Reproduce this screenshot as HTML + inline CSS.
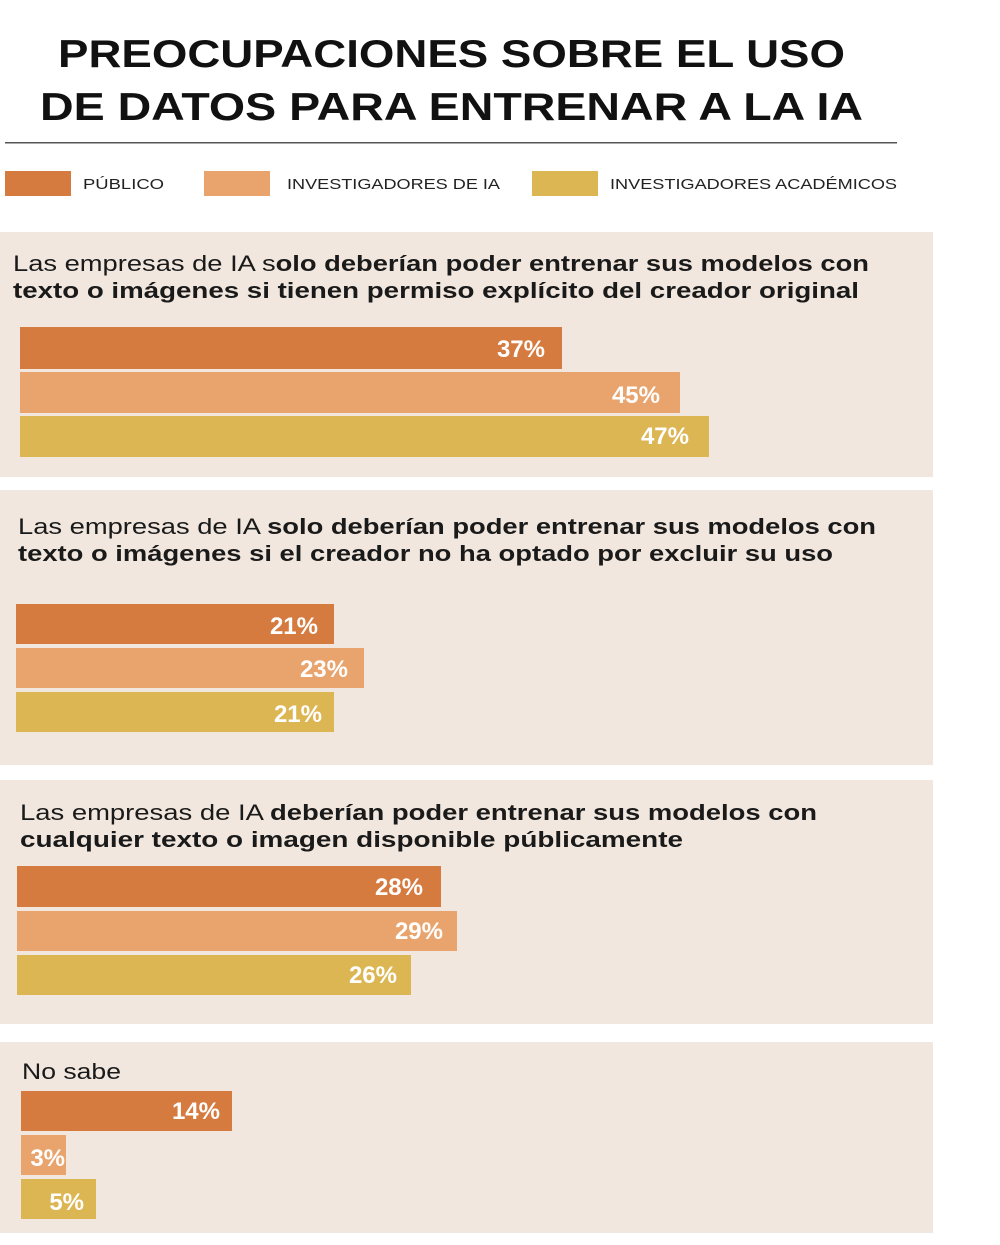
<!DOCTYPE html>
<html><head><meta charset="utf-8"><style>
html,body{margin:0;padding:0;background:#fff;}
svg{display:block;font-family:"Liberation Sans",sans-serif;}
.t{font-weight:bold;fill:#111;font-size:39px}
.lg{font-size:15px;fill:#222}
.q{font-size:22px;fill:#1a1a1a}
.b{font-weight:bold}
.v{font-weight:bold;font-size:24px;fill:#fff;text-anchor:end}
</style></head><body>
<svg width="1000" height="1245" viewBox="0 0 1000 1245">
<rect width="1000" height="1245" fill="#fff"/>
<text class="t" x="58" y="67" textLength="787" lengthAdjust="spacingAndGlyphs">PREOCUPACIONES SOBRE EL USO</text>
<text class="t" x="40" y="120" textLength="823" lengthAdjust="spacingAndGlyphs">DE DATOS PARA ENTRENAR A LA IA</text>
<rect x="5" y="142" width="892" height="1.5" fill="#555"/>
<rect x="5" y="171" width="66" height="25" fill="#d67b40"/>
<text class="lg" x="83" y="189" textLength="81" lengthAdjust="spacingAndGlyphs">PÚBLICO</text>
<rect x="204" y="171" width="66" height="25" fill="#e8a46c"/>
<text class="lg" x="287" y="189" textLength="213" lengthAdjust="spacingAndGlyphs">INVESTIGADORES DE IA</text>
<rect x="532" y="171" width="66" height="25" fill="#dcb653"/>
<text class="lg" x="610" y="189" textLength="287" lengthAdjust="spacingAndGlyphs">INVESTIGADORES ACADÉMICOS</text>

<rect x="0" y="232" width="933" height="245" fill="#f1e7de"/>
<text class="q" x="13" y="271" textLength="856" lengthAdjust="spacingAndGlyphs">Las empresas de IA s<tspan class="b">olo deberían poder entrenar sus modelos con</tspan></text>
<text class="q b" x="13" y="298" textLength="846" lengthAdjust="spacingAndGlyphs">texto o imágenes si tienen permiso explícito del creador original</text>
<rect x="20" y="327" width="542" height="42" fill="#d67b40"/>
<rect x="20" y="372" width="660" height="41" fill="#e8a46c"/>
<rect x="20" y="416" width="689" height="41" fill="#dcb653"/>
<text class="v" x="545" y="357">37%</text>
<text class="v" x="660" y="403">45%</text>
<text class="v" x="689" y="444">47%</text>

<rect x="0" y="490" width="933" height="275" fill="#f1e7de"/>
<text class="q" x="18" y="534" textLength="858" lengthAdjust="spacingAndGlyphs">Las empresas de IA <tspan class="b">solo deberían poder entrenar sus modelos con</tspan></text>
<text class="q b" x="18" y="561" textLength="815" lengthAdjust="spacingAndGlyphs">texto o imágenes si el creador no ha optado por excluir su uso</text>
<rect x="16" y="604" width="318" height="40" fill="#d67b40"/>
<rect x="16" y="648" width="348" height="40" fill="#e8a46c"/>
<rect x="16" y="692" width="318" height="40" fill="#dcb653"/>
<text class="v" x="318" y="634">21%</text>
<text class="v" x="348" y="677">23%</text>
<text class="v" x="322" y="722">21%</text>

<rect x="0" y="780" width="933" height="244" fill="#f1e7de"/>
<text class="q" x="20" y="820" textLength="797" lengthAdjust="spacingAndGlyphs">Las empresas de IA <tspan class="b">deberían poder entrenar sus modelos con</tspan></text>
<text class="q b" x="20" y="847" textLength="663" lengthAdjust="spacingAndGlyphs">cualquier texto o imagen disponible públicamente</text>
<rect x="17" y="866" width="424" height="41" fill="#d67b40"/>
<rect x="17" y="911" width="440" height="40" fill="#e8a46c"/>
<rect x="17" y="955" width="394" height="40" fill="#dcb653"/>
<text class="v" x="423" y="895">28%</text>
<text class="v" x="443" y="939">29%</text>
<text class="v" x="397" y="983">26%</text>

<rect x="0" y="1042" width="933" height="191" fill="#f1e7de"/>
<text class="q" x="22" y="1079" textLength="99" lengthAdjust="spacingAndGlyphs">No sabe</text>
<rect x="21" y="1091" width="211" height="40" fill="#d67b40"/>
<rect x="21" y="1135" width="45" height="40" fill="#e8a46c"/>
<rect x="21" y="1179" width="75" height="40" fill="#dcb653"/>
<text class="v" x="220" y="1119">14%</text>
<text class="v" x="65" y="1166">3%</text>
<text class="v" x="84" y="1210">5%</text>
</svg>
</body></html>
